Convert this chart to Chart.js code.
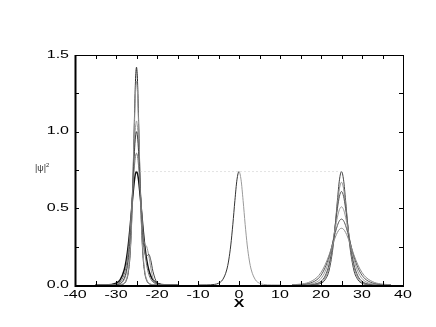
<!DOCTYPE html>
<html>
<head>
<meta charset="utf-8">
<script src="https://cdn.jsdelivr.net/npm/chart.js@4.4.1/dist/chart.umd.min.js"></script>
<style>
  html, body { margin: 0; padding: 0; background: #fff; }
  #wrap { width: 436px; height: 327px; }
</style>
</head>
<body>
<div id="wrap"><canvas id="myChart" width="436" height="327"></canvas></div>
<script>
// left cluster (x = -25)
const leftX = [-35, -33, -31, -30, -29, -28, -27.5, -27, -26.5, -26, -25.5, -25.25, -25,
  -24.75, -24.5, -24, -23.5, -23, -22.5, -22, -21.5, -21, -20, -19, -17, -15];
const left1 = [0, 0, 0, 0, 0.001, 0.010, 0.029, 0.082, 0.222, 0.555, 1.089, 1.326, 1.42,
  1.326, 1.089, 0.555, 0.222, 0.082, 0.029, 0.010, 0.004, 0.001, 0, 0, 0, 0];
const left2 = [0, 0, 0, 0.0002, 0.002, 0.013, 0.035, 0.094, 0.241, 0.559, 1.045, 1.250, 1.33,
  1.250, 1.045, 0.559, 0.241, 0.094, 0.035, 0.013, 0.005, 0.002, 0.0002, 0, 0, 0];
const left3 = [0, 0, 0.0003, 0.0014, 0.007, 0.035, 0.076, 0.161, 0.326, 0.597, 0.916, 1.028, 1.07,
  1.028, 0.916, 0.597, 0.34, 0.27, 0.25, 0.19, 0.11, 0.045, 0.01, 0.002, 0, 0];
const left4 = [0, 0, 0.0005, 0.0022, 0.0099, 0.043, 0.089, 0.180, 0.343, 0.594, 0.871, 0.965, 1.0,
  0.965, 0.871, 0.594, 0.343, 0.21, 0.19, 0.2, 0.16, 0.09, 0.015, 0.002, 0, 0];
const left5 = [0, 0.0001, 0.0015, 0.0054, 0.0195, 0.069, 0.127, 0.225, 0.378, 0.582, 0.777, 0.838, 0.86,
  0.838, 0.777, 0.582, 0.378, 0.225, 0.127, 0.069, 0.037, 0.0195, 0.0054, 0.0015, 0.0001, 0];
const left6 = [0, 0.0004, 0.0038, 0.0114, 0.034, 0.098, 0.163, 0.261, 0.396, 0.551, 0.686, 0.726, 0.74,
  0.726, 0.686, 0.551, 0.396, 0.261, 0.163, 0.098, 0.058, 0.034, 0.0114, 0.0038, 0.0004, 0];

// middle soliton (x = 0)
const midX = [-10, -8, -6, -5, -4, -3, -2.5, -2, -1.5, -1, -0.5, 0, 0.5, 1, 1.5, 2, 2.5, 3, 4, 5, 6, 8, 10];
const midY = [0, 0.0004, 0.0038, 0.0114, 0.034, 0.098, 0.163, 0.261, 0.396, 0.551, 0.686, 0.74,
  0.686, 0.551, 0.396, 0.261, 0.163, 0.098, 0.034, 0.0114, 0.0038, 0.0004, 0];

// right cluster (x = 25)
const rightX = [13, 15, 17, 19, 20, 21, 22, 23, 23.5, 24, 24.5, 25, 25.5, 26, 26.5, 27, 28, 29, 30, 31, 33, 35, 37];
const right1 = [0, 0, 0.0004, 0.0038, 0.0114, 0.034, 0.098, 0.261, 0.396, 0.551, 0.686, 0.74,
  0.686, 0.551, 0.396, 0.261, 0.098, 0.034, 0.0114, 0.0038, 0.0004, 0, 0];
const right2 = [0, 0.0001, 0.0009, 0.0064, 0.0174, 0.0465, 0.119, 0.280, 0.398, 0.525, 0.630, 0.67,
  0.630, 0.525, 0.398, 0.280, 0.119, 0.0465, 0.0174, 0.0064, 0.0009, 0.0001, 0];
const right3 = [0, 0.0003, 0.0016, 0.0098, 0.0244, 0.059, 0.138, 0.288, 0.393, 0.498, 0.579, 0.61,
  0.579, 0.498, 0.393, 0.288, 0.138, 0.059, 0.0244, 0.0098, 0.0016, 0.0003, 0];
const right4 = [0.0002, 0.001, 0.0044, 0.0202, 0.0426, 0.087, 0.169, 0.298, 0.372, 0.442, 0.492, 0.51,
  0.492, 0.442, 0.372, 0.298, 0.169, 0.087, 0.0426, 0.0202, 0.0044, 0.001, 0.0002];
const right5 = [0.0007, 0.0027, 0.0098, 0.0344, 0.0636, 0.113, 0.189, 0.291, 0.343, 0.388, 0.419, 0.43,
  0.419, 0.388, 0.343, 0.291, 0.189, 0.113, 0.0636, 0.0344, 0.0098, 0.0027, 0.0007];
const right6 = [0.0019, 0.0057, 0.017, 0.049, 0.0815, 0.131, 0.198, 0.276, 0.313, 0.343, 0.363, 0.37,
  0.363, 0.343, 0.313, 0.276, 0.198, 0.131, 0.0815, 0.049, 0.017, 0.0057, 0.0019];

// dotted reference level
const refX = [-25, 25];
const refY = [0.74, 0.74];

const xTickLabels = [-40, -30, -20, -10, 0, 10, 20, 30, 40];
const xTickMinor = [-35, -25, -15, -5, 5, 15, 25, 35];
const yTickLabels = [0, 0.5, 1.0, 1.5];
const yTickMinor = [0.25, 0.75, 1.25];

function pts(xs, ys) {
    return xs.map((x, i) => ({ x: x, y: ys[i] }));
}

function curve(xs, ys, color, width) {
    return {
        data: pts(xs, ys),
        borderColor: color,
        borderWidth: width || 1,
        pointRadius: 0,
        cubicInterpolationMode: 'monotone',
        fill: false
    };
}

const datasets = [
    {
        data: pts(refX, refY),
        borderColor: '#c8c8c8',
        borderWidth: 1,
        borderDash: [1, 3],
        pointRadius: 0
    },
    curve(rightX, right6, '#8a8a8a'),
    curve(rightX, right5, '#555'),
    curve(rightX, right4, '#999'),
    curve(rightX, right3, '#555'),
    curve(rightX, right2, '#8a8a8a'),
    curve(rightX, right1, '#444'),
    {
        data: pts(midX, midY),
        borderWidth: 1,
        pointRadius: 0,
        cubicInterpolationMode: 'monotone',
        segment: {
            borderColor: ctx => ctx.p0.parsed.x < 0 ? '#333' : '#9a9a9a'
        }
    },
    curve(leftX, left5, '#777'),
    curve(leftX, left4, '#444'),
    curve(leftX, left3, '#999'),
    curve(leftX, left2, '#999'),
    curve(leftX, left1, '#222'),
    curve(leftX, left6, '#111', 1.5)
];

function wideText(ctx, txt, px, py, align) {
    ctx.save();
    ctx.translate(px, py);
    ctx.scale(1.6, 1);
    ctx.textAlign = align;
    ctx.fillText(txt, 0, 0);
    ctx.restore();
}

const framePlugin = {
    id: 'frame',
    afterDraw(chart) {
        const ctx = chart.ctx;
        const a = chart.chartArea;
        const xs = chart.scales.x;
        const ys = chart.scales.y;
        ctx.save();
        ctx.strokeStyle = '#000';
        ctx.lineWidth = 1;
        ctx.strokeRect(a.left + 0.5, a.top + 0.5, a.right - a.left, a.bottom - a.top);
        // heavier left and bottom axis
        ctx.lineWidth = 2;
        ctx.beginPath();
        ctx.moveTo(a.left + 0.5, a.top);
        ctx.lineTo(a.left + 0.5, a.bottom + 1);
        ctx.lineTo(a.right + 1, a.bottom + 1);
        ctx.stroke();

        ctx.lineWidth = 1;
        ctx.beginPath();
        xTickLabels.concat(xTickMinor).forEach(v => {
            const px = Math.round(xs.getPixelForValue(v)) + 0.5;
            ctx.moveTo(px, a.bottom); ctx.lineTo(px, a.bottom - 4);
            ctx.moveTo(px, a.top); ctx.lineTo(px, a.top + 4);
        });
        yTickLabels.concat(yTickMinor).forEach(v => {
            const py = Math.round(ys.getPixelForValue(v)) + 0.5;
            ctx.moveTo(a.left, py); ctx.lineTo(a.left + 4, py);
            ctx.moveTo(a.right, py); ctx.lineTo(a.right - 4, py);
        });
        ctx.stroke();

        ctx.fillStyle = '#000';
        ctx.font = '10px "Liberation Sans", Arial, sans-serif';
        ctx.textBaseline = 'top';
        xTickLabels.forEach(v => {
            wideText(ctx, String(v), xs.getPixelForValue(v), a.bottom + 5, 'center');
        });
        ctx.textBaseline = 'middle';
        yTickLabels.forEach(v => {
            wideText(ctx, v.toFixed(1), a.left - 6, ys.getPixelForValue(v), 'right');
        });

        // axis titles
        ctx.font = 'bold 10px "Liberation Sans", Arial, sans-serif';
        ctx.textBaseline = 'top';
        wideText(ctx, 'X', xs.getPixelForValue(0), a.bottom + 14, 'center');
        ctx.fillStyle = '#333';
        ctx.font = '9px "Liberation Sans", Arial, sans-serif';
        ctx.textBaseline = 'middle';
        ctx.textAlign = 'left';
        ctx.fillText('|\u03c8|', 35, ys.getPixelForValue(0.76));
        ctx.font = '6px "Liberation Sans", Arial, sans-serif';
        ctx.fillText('2', 46, ys.getPixelForValue(0.76) - 3);
        ctx.restore();
    }
};

new Chart(document.querySelector('#myChart'), {
    type: 'line',
    data: { datasets },
    options: {
        responsive: false,
        animation: false,
        layout: { padding: { left: 75, right: 33, top: 55, bottom: 42 } },
        plugins: { legend: { display: false }, tooltip: { enabled: false } },
        scales: {
            x: { type: 'linear', min: -40, max: 40, display: false },
            y: { type: 'linear', min: 0, max: 1.5, display: false }
        }
    },
    plugins: [framePlugin]
});
</script>
</body>
</html>
